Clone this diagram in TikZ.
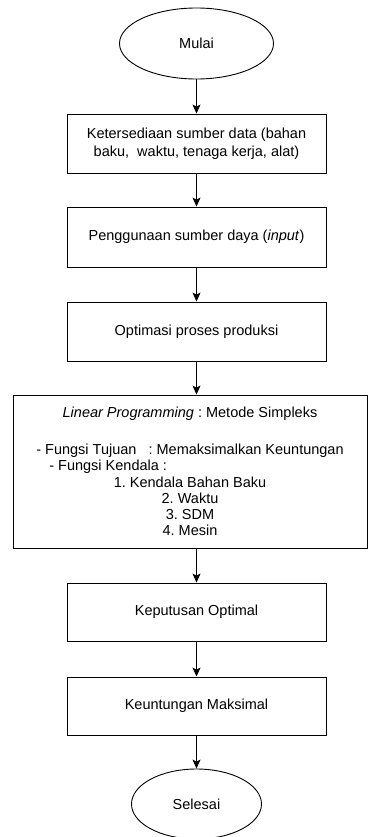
\documentclass[tikz,border=0pt]{standalone}
\usepackage{fontspec}
\usepackage{calc}
\setmainfont{Liberation Sans}
\usetikzlibrary{arrows.meta,shapes.geometric}
\frenchspacing

\newcommand{\tujuanline}{- Fungsi Tujuan\ \ \ : Memaksimalkan Keuntungan}

\begin{document}
\begin{tikzpicture}[x=1pt,y=-1pt,
  line width=0.9pt,
  font=\fontsize{14.5}{18}\selectfont,
  terminal/.style={draw,ellipse,inner sep=0pt},
  prosesbox/.style={draw,rectangle,minimum width=259pt,minimum height=59pt,inner sep=0pt,align=center},
  arr/.style={-{Stealth[length=9pt,width=8pt,inset=2pt]}}]
\useasboundingbox (0,0) rectangle (368,837);

\node[terminal,minimum width=154pt,minimum height=71pt] (mulai) at (196.5,43.5) {Mulai};
\node[prosesbox] (sumber) at (196.5,143.5) {Ketersediaan sumber data (bahan\\baku,\ \ waktu, tenaga kerja, alat)};
\node[prosesbox,minimum height=60pt] (input) at (196.5,237) {Penggunaan sumber daya (\textit{input})};
\node[prosesbox] (optimasi) at (196.5,331.5) {Optimasi proses produksi};
\node[draw,rectangle,minimum width=354pt,minimum height=153pt,inner sep=0pt,align=center,
  font=\fontsize{14.5}{16.2}\selectfont] (lp) at (190,471.5) {%
  \textit{Linear Programming} : Metode Simpleks\\[21pt]
  \tujuanline\\
  \makebox[\widthof{\tujuanline}][l]{\hspace{13pt}- Fungsi Kendala :}\\
  1. Kendala Bahan Baku\\
  2. Waktu\\
  3. SDM\\
  4. Mesin};
\node[prosesbox,minimum height=58pt] (optimal) at (196.5,612) {Keputusan Optimal};
\node[prosesbox,minimum height=58pt] (maksimal) at (196.5,706) {Keuntungan Maksimal};
\node[terminal,minimum width=130pt,minimum height=70pt] (selesai) at (196.5,804) {Selesai};

\draw[arr] (mulai) -- (sumber);
\draw[arr] (sumber) -- (input);
\draw[arr] (input) -- (optimasi);
\draw[arr] (optimasi) -- (optimasi |- lp.north);
\draw[arr] (lp.south -| optimal) -- (optimal);
\draw[arr] (optimal) -- (maksimal);
\draw[arr] (maksimal) -- (selesai);
\end{tikzpicture}
\end{document}
